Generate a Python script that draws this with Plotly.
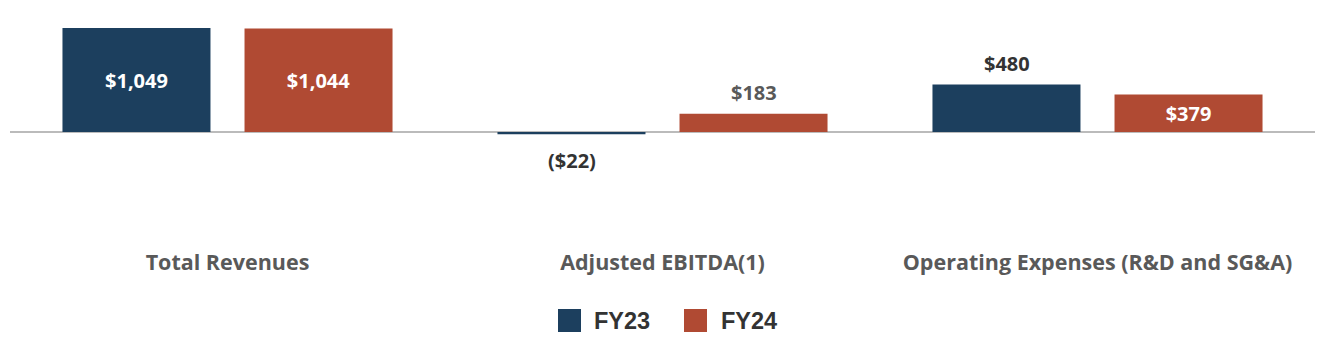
import plotly.graph_objects as go

categories = ["Total Revenues", "Adjusted EBITDA(1)", "Operating Expenses (R&D and SG&A)"]
fy23 = [1049, -22, 480]
fy24 = [1044, 183, 379]
fy23_labels = ["$1,049", "($22)", "$480"]
fy24_labels = ["$1,044", "$183", "$379"]
series_names = ["FY23", "FY24"]

NAVY = "#1C3F5E"
RUST = "#B04A33"
W, H = 1324, 344
ML, MR, MT, MB = 10, 9, 20, 97
PW, PH = W - ML - MR, H - MT - MB

def px2x(px):
    return (px - ML) / PW

def px2y(py):
    return (MT + PH - py) / PH

LABEL_FONT = "Open Sans"
LBL_SIZE = 20

# which labels sit inside the bar (style choice per point)
inside23 = [True, False, False]
inside24 = [True, False, True]
outcol23 = "#333333"
outcol24 = "#595959"

fig = go.Figure()
for vals, labels, inside, name, col in [(fy23, fy23_labels, inside23, series_names[0], NAVY),
                                        (fy24, fy24_labels, inside24, series_names[1], RUST)]:
    fig.add_trace(go.Bar(x=categories, y=vals, name=name, marker_color=col,
                         marker_line_width=0,
                         text=[t if i else "" for t, i in zip(labels, inside)],
                         textposition="inside", insidetextanchor="middle",
                         textfont=dict(family=LABEL_FONT, size=LBL_SIZE, color="white", weight="bold"),
                         showlegend=False, hoverinfo="skip"))

annotations = []
for vals, labels, inside, shift, poscol in [(fy23, fy23_labels, inside23, -91, outcol23),
                                            (fy24, fy24_labels, inside24, 91, outcol24)]:
    for c, v, t, i in zip(categories, vals, labels, inside):
        if i:
            continue
        annotations.append(dict(x=c, y=v, xref="x", yref="y", text="<b>%s</b>" % t,
                                showarrow=False, xshift=shift, yshift=21 if v > 0 else -26,
                                yanchor="middle",
                                font=dict(family=LABEL_FONT, size=LBL_SIZE, color=poscol)))

# legend
shapes = []
leg = [(558, 592, NAVY, series_names[0]), (684, 719, RUST, series_names[1])]
for sx, tx, col, name in leg:
    shapes.append(dict(type="rect", xref="paper", yref="paper", x0=px2x(sx), x1=px2x(sx + 23),
                       y0=px2y(332), y1=px2y(309), fillcolor=col, line_width=0))
    annotations.append(dict(x=px2x(tx), y=px2y(320.5), xref="paper", yref="paper", xanchor="left",
                            yanchor="middle", text="<b>%s</b>" % name, showarrow=False,
                            font=dict(family="Liberation Sans, Arial", size=23.5, color="#333333")))

fig.update_layout(
    width=W, height=H, margin=dict(l=ML, r=MR, t=MT, b=MB),
    paper_bgcolor="white", plot_bgcolor="white",
    barmode="group", bargap=0.163, bargroupgap=0.187,
    showlegend=False,
    annotations=annotations, shapes=shapes,
    xaxis=dict(showgrid=False, showline=False, ticks="",
               tickfont=dict(family=LABEL_FONT, size=21.5, color="#595959", weight="bold")),
    yaxis=dict(range=[-1160, 1130], showgrid=False, showticklabels=False, zeroline=True,
               zerolinecolor="#BBBBBB", zerolinewidth=2, showline=False),
)

fig.update_xaxes(fixedrange=True)
fig.update_yaxes(fixedrange=True)
fig.write_html("out.html")
